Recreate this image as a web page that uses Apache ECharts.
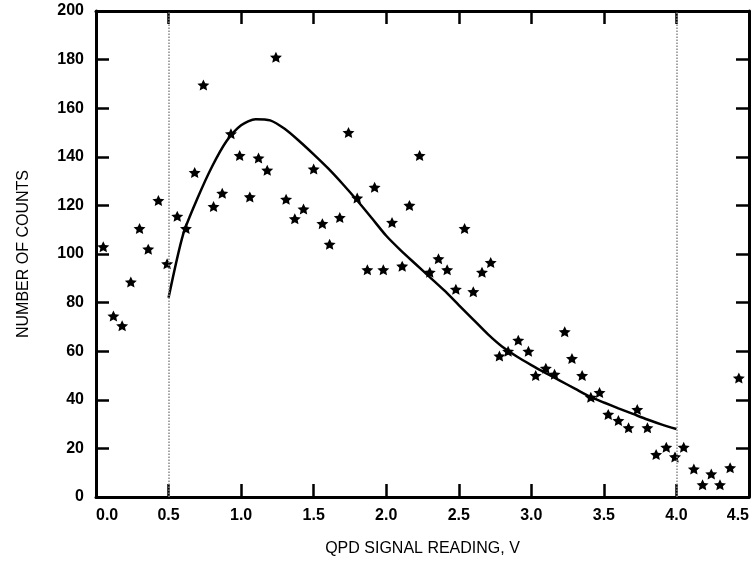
<!DOCTYPE html>
<html lang="en">
<head>
    <meta charset="utf-8">
    <title>QPD signal counts</title>
    <script src="https://cdn.jsdelivr.net/npm/echarts@6/dist/echarts.min.js"></script>
</head>
<body style="margin: 0">
<div id="container" style="height: 570px; width: 754px"></div>
<script type="text/javascript">
    // measured counts (stars)
    var countX = [0.05, 0.12, 0.18, 0.24, 0.30, 0.36, 0.43, 0.49, 0.56, 0.62, 0.68, 0.74, 0.81, 0.87, 0.93, 0.99,
        1.06, 1.12, 1.18, 1.24, 1.31, 1.37, 1.43, 1.50, 1.56, 1.61, 1.68, 1.74, 1.80, 1.87, 1.92, 1.98,
        2.04, 2.11, 2.16, 2.23, 2.30, 2.36, 2.42, 2.48, 2.54, 2.60, 2.66, 2.72, 2.78, 2.84, 2.91, 2.98,
        3.03, 3.10, 3.16, 3.23, 3.28, 3.35, 3.41, 3.47, 3.53, 3.60, 3.67, 3.73, 3.80, 3.86, 3.93, 3.99,
        4.05, 4.12, 4.18, 4.24, 4.30, 4.37, 4.43];
    var countY = [103, 74.5, 70.5, 88.5, 110.5, 102, 122, 96, 115.5, 110.5, 133.5, 169.5, 119.5, 125, 149.5, 140.5,
        123.5, 139.5, 134.5, 181, 122.5, 114.5, 118.5, 135, 112.5, 104, 115, 150, 123, 93.5, 127.5, 93.5,
        113, 95, 120, 140.5, 92.5, 98, 93.5, 85.5, 110.5, 84.5, 92.5, 96.5, 58, 60, 64.5, 60,
        50, 53, 50.5, 68, 57, 50, 41, 43, 34, 31.5, 28.5, 36, 28.5, 17.5, 20.5, 16.5,
        20.5, 11.5, 5, 9.5, 5, 12, 49];
    // fitted curve, read every 0.1 V
    var fitX = [0.5, 0.6, 0.7, 0.8, 0.9, 1.0, 1.1, 1.2, 1.3, 1.4, 1.5, 1.6, 1.7, 1.8, 1.9, 2.0, 2.1, 2.2,
        2.3, 2.4, 2.5, 2.6, 2.7, 2.8, 2.9, 3.0, 3.1, 3.2, 3.3, 3.4, 3.5, 3.6, 3.7, 3.8, 3.9, 4.0];
    var fitY = [82, 108, 123, 136, 146.5, 153, 155.5, 155, 151.5, 146.5, 141, 135.2, 128.8, 122, 114.8, 107.5,
        101.5, 96, 90.5, 85, 79, 73, 67, 61.8, 57.8, 54.3, 51, 47.8, 44.6, 41.4, 38.9, 36.5, 34.2, 31.9, 29.8, 28];
    var cutoffs = [0.5, 4.0];
    var xTicks = [0, 4.5, 0.5];   // min, max, interval
    var yTicks = [0, 200, 20];

    var font = 'Liberation Sans, Arial, sans-serif';
    var star = 'path://M50 0L64.11 30.58L97.55 34.55L72.83 57.42L79.39 90.45L50 74L20.61 90.45L27.17 57.42L2.45 34.55L35.89 30.58Z';
    var counts = [], fit = [];
    for (var i = 0; i < countX.length; i++) counts.push([countX[i], countY[i]]);
    for (var j = 0; j < fitX.length; j++) fit.push([fitX[j], fitY[j]]);

    function axisOf(ticks, extra) {
        var a = {
            type: 'value',
            min: ticks[0], max: ticks[1], interval: ticks[2],
            axisLine: {show: true, onZero: false, lineStyle: {color: '#000', width: 3}},
            axisTick: {show: true, inside: true, length: 13, lineStyle: {color: '#000', width: 2.5}},
            splitLine: {show: false}
        };
        for (var k in extra) a[k] = extra[k];
        return a;
    }

    var myChart = echarts.init(document.getElementById('container'));
    var option = {
        backgroundColor: '#fff',
        animation: false,
        grid: {left: 96, right: 5, top: 11, bottom: 73},
        xAxis: [
            axisOf(xTicks, {
                position: 'bottom',
                name: 'QPD SIGNAL READING, V', nameLocation: 'middle', nameGap: 44,
                nameTextStyle: {fontFamily: font, fontSize: 16, color: '#000'},
                axisLabel: {
                    margin: 11, fontFamily: font, fontSize: 16, fontWeight: 'bold', color: '#000',
                    alignMinLabel: 'left', alignMaxLabel: 'right',
                    formatter: function (v) { return v.toFixed(1); }
                }
            }),
            axisOf(xTicks, {position: 'top', axisLabel: {show: false}})
        ],
        yAxis: [
            axisOf(yTicks, {
                position: 'left',
                name: 'NUMBER OF COUNTS', nameLocation: 'middle', nameGap: 64,
                nameTextStyle: {fontFamily: font, fontSize: 16, color: '#000'},
                axisLabel: {margin: 12, fontFamily: font, fontSize: 16, fontWeight: 'bold', color: '#000'}
            }),
            axisOf(yTicks, {position: 'right', axisLabel: {show: false}})
        ],
        series: [
            {
                type: 'line', data: fit, smooth: 0.25, symbol: 'none',
                lineStyle: {color: '#000', width: 2.5},
                markLine: {
                    silent: true, symbol: 'none', label: {show: false},
                    lineStyle: {color: '#888', width: 1.5, type: 'dotted'},
                    data: cutoffs.map(function (c) { return {xAxis: c}; })
                }
            },
            {
                type: 'scatter', data: counts, symbol: star, symbolSize: [12, 11],
                itemStyle: {color: '#000', opacity: 1}
            }
        ]
    };
    myChart.setOption(option);
</script>
</body>
</html>
